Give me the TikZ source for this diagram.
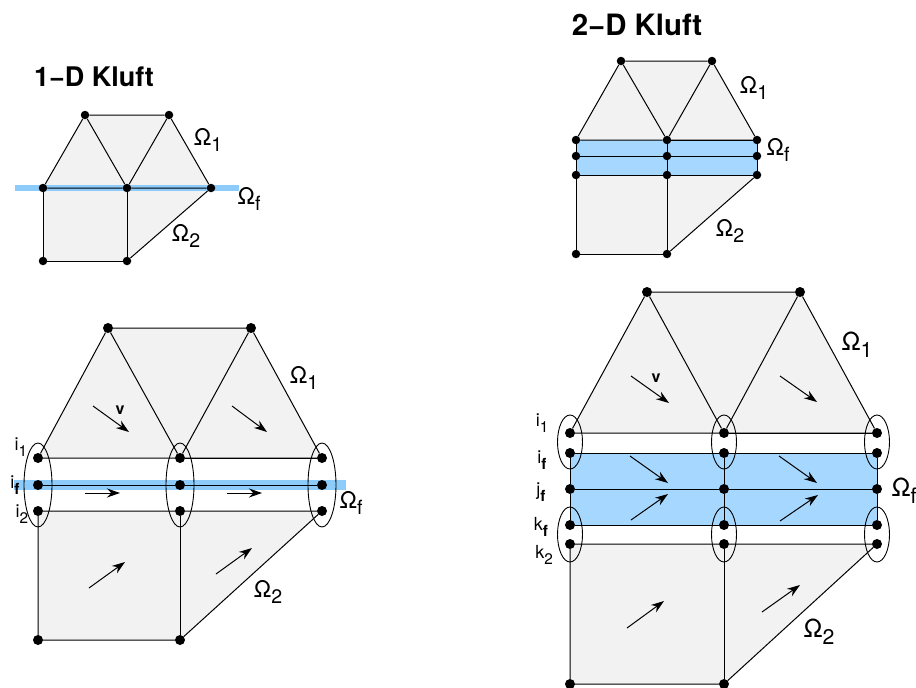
\documentclass[tikz,border=0pt]{standalone}
\usepackage{fontspec}
\setmainfont{TeX Gyre Heros}
\usepackage{tikz}
\usetikzlibrary{arrows.meta, backgrounds, shapes.geometric}

\definecolor{cellgray}{HTML}{F2F2F2}
\definecolor{bandblue}{HTML}{A6D8FF}
\definecolor{lineblue}{HTML}{8CCBFA}

\newcommand{\omlabel}[1]{Ω\raisebox{-.27em}{\scalebox{.85}{#1}}}
\newcommand{\idxlabel}[2]{#1\raisebox{-.35em}{\scalebox{.85}{#2}}}

\tikzset{
    dotsmall/.style={circle, fill=black, inner sep=0pt, minimum size=8.5pt},
    dotbig/.style={circle, fill=black, inner sep=0pt, minimum size=10pt},
    ring/.style={draw, ellipse, inner sep=0pt, line width=0.9pt},
    titleA/.style={font=\fontsize{27}{27}\selectfont\bfseries},
    titleB/.style={font=\fontsize{29.4}{29.4}\selectfont\bfseries},
    omsmall/.style={font=\fontsize{23}{23}\selectfont},
    ombig/.style={font=\fontsize{25}{25}\selectfont},
    idx/.style={font=\fontsize{18}{18}\selectfont},
    speed/.style={font=\fontsize{16}{16}\selectfont\bfseries},
    flow/.style={-{Stealth[length=13pt, width=9pt]}, line width=1pt},
    edge/.style={line width=1pt}
}

\begin{document}
\begin{tikzpicture}[x=1pt, y=-1pt]
    \useasboundingbox (0,0) rectangle (916,688);

    % 1-D small
    \node (headA) [titleA] at (94,77) {1−D Kluft};
    \node (sa1) [dotsmall] at (85,115) {};
    \node (sa2) [dotsmall] at (169,115) {};
    \node (sa3) [dotsmall] at (43,188) {};
    \node (sa4) [dotsmall] at (127,188) {};
    \node (sa5) [dotsmall] at (211,188) {};
    \node (sa6) [dotsmall] at (43,261) {};
    \node (sa7) [dotsmall] at (127,261) {};
    \coordinate (saL) at (15,188);
    \coordinate (saR) at (239,188);
    \begin{scope}[on background layer]
        \fill[cellgray] (sa1.center) -- (sa2.center) -- (sa5.center) -- (sa7.center) -- (sa6.center) -- (sa3.center) -- cycle;
        \draw[lineblue, line width=6pt] (saL) -- (saR);
    \end{scope}
    \draw[edge] (sa1) -- (sa2) -- (sa5) -- (sa4) -- (sa3) -- (sa1) -- (sa4) -- (sa2);
    \draw[edge] (sa3) -- (sa6) -- (sa7) -- (sa4);
    \draw[edge] (sa7) -- (sa5);
    \node (saO1) [omsmall] at (208,140) {\omlabel{1}};
    \node (saOf) [omsmall] at (249,199) {\omlabel{f}};
    \node (saO2) [omsmall] at (186,236) {\omlabel{2}};

    % 2-D small
    \node (headB) [titleB] at (637,25) {2−D Kluft};
    \node (sb1) [dotsmall] at (621,61) {};
    \node (sb2) [dotsmall] at (712,61) {};
    \node (sb3) [dotsmall] at (576,140) {};
    \node (sb4) [dotsmall] at (667,140) {};
    \node (sb5) [dotsmall] at (757,140) {};
    \node (sb6) [dotsmall] at (576,156) {};
    \node (sb7) [dotsmall] at (667,156) {};
    \node (sb8) [dotsmall] at (757,156) {};
    \node (sb9) [dotsmall] at (576,175) {};
    \node (sb10) [dotsmall] at (667,175) {};
    \node (sb11) [dotsmall] at (757,175) {};
    \node (sb12) [dotsmall] at (576,254) {};
    \node (sb13) [dotsmall] at (667,254) {};
    \begin{scope}[on background layer]
        \fill[cellgray] (sb1.center) -- (sb2.center) -- (sb5.center) -- (sb3.center) -- cycle;
        \fill[cellgray] (sb9.center) -- (sb11.center) -- (sb13.center) -- (sb12.center) -- cycle;
        \fill[bandblue] (sb3.center) rectangle (sb11.center);
    \end{scope}
    \draw[edge] (sb1) -- (sb2) -- (sb5) -- (sb4) -- (sb3) -- (sb1) -- (sb4) -- (sb2);
    \draw[edge] (sb4) -- (sb5) -- (sb8) -- (sb11) -- (sb10) -- (sb9) -- (sb6) -- (sb3);
    \draw[edge] (sb6) -- (sb7) -- (sb8);
    \draw[edge] (sb4) -- (sb7) -- (sb10) -- (sb13) -- (sb12) -- (sb9);
    \draw[edge] (sb13) -- (sb11);
    \node (sbO1) [omsmall] at (754,88) {\omlabel{1}};
    \node (sbOf) [omsmall] at (778,150) {\omlabel{f}};
    \node (sbO2) [omsmall] at (730,231) {\omlabel{2}};

    % 1-D big
    \node (la1) [dotbig] at (108,328) {};
    \node (la2) [dotbig] at (251,328) {};
    \node (la3) [dotbig] at (38,458) {};
    \node (la4) [dotbig] at (180,458) {};
    \node (la5) [dotbig] at (322,458) {};
    \node (la6) [dotbig] at (38,485) {};
    \node (la7) [dotbig] at (180,485) {};
    \node (la8) [dotbig] at (322,485) {};
    \node (la9) [dotbig] at (38,511) {};
    \node (la10) [dotbig] at (180,511) {};
    \node (la11) [dotbig] at (322,511) {};
    \node (la12) [dotbig] at (38,640) {};
    \node (la13) [dotbig] at (180,640) {};
    \coordinate (laL) at (14,485);
    \coordinate (laR) at (346,485);
    \begin{scope}[on background layer]
        \fill[cellgray] (la1.center) -- (la2.center) -- (la5.center) -- (la3.center) -- cycle;
        \fill[cellgray] (la9.center) -- (la11.center) -- (la13.center) -- (la12.center) -- cycle;
        \draw[lineblue, line width=10pt] (laL) -- (laR);
    \end{scope}
    \draw[edge] (la1) -- (la2) -- (la5) -- (la4) -- (la3) -- (la1) -- (la4) -- (la2);
    \draw[edge] (la4) -- (la5);
    \draw[edge] (la6) -- (la7) -- (la8);
    \draw[edge] (la9) -- (la10) -- (la11) -- (la13) -- (la12) -- (la9);
    \draw[edge] (la10) -- (la13);
    \node (laR1) [ring, minimum width=28pt, minimum height=84pt] at (38,485) {};
    \node (laR2) [ring, minimum width=28pt, minimum height=84pt] at (180,485) {};
    \node (laR3) [ring, minimum width=28pt, minimum height=84pt] at (322,485) {};
    \coordinate (laA1) at (93,406);  \coordinate (laA2) at (129,432);
    \coordinate (laA3) at (232,406); \coordinate (laA4) at (267,432);
    \coordinate (laA5) at (85,493);  \coordinate (laA6) at (120,493);
    \coordinate (laA7) at (227,493); \coordinate (laA8) at (262,493);
    \coordinate (laA9) at (89,588);  \coordinate (laA10) at (125,562);
    \coordinate (laA11) at (216,574); \coordinate (laA12) at (252,548);
    \draw[flow] (laA1) -- (laA2);
    \draw[flow] (laA3) -- (laA4);
    \draw[flow] (laA5) -- (laA6);
    \draw[flow] (laA7) -- (laA8);
    \draw[flow] (laA9) -- (laA10);
    \draw[flow] (laA11) -- (laA12);
    \node (laV) [speed] at (120,410) {v};
    \node (laO1) [omsmall] at (304,378) {\omlabel{1}};
    \node (laOf) [omsmall] at (351,503) {\omlabel{f}};
    \node (laO2) [omsmall] at (268,592) {\omlabel{2}};
    \node (laI1) [idx] at (21,447) {\idxlabel{i}{1}};
    \node (laIf) [idx] at (15,485) {\idxlabel{i}{\bfseries f}};
    \node (laI2) [idx] at (22,514) {\idxlabel{i}{2}};

    % 2-D big
    \node (ra1) [dotbig] at (647,292) {};
    \node (ra2) [dotbig] at (800,292) {};
    \node (ra3) [dotbig] at (570,433) {};
    \node (ra4) [dotbig] at (724,433) {};
    \node (ra5) [dotbig] at (877,433) {};
    \node (ra6) [dotbig] at (570,453) {};
    \node (ra7) [dotbig] at (724,453) {};
    \node (ra8) [dotbig] at (877,453) {};
    \node (ra9) [dotbig] at (570,489) {};
    \node (ra10) [dotbig] at (724,489) {};
    \node (ra11) [dotbig] at (877,489) {};
    \node (ra12) [dotbig] at (570,525) {};
    \node (ra13) [dotbig] at (724,525) {};
    \node (ra14) [dotbig] at (877,525) {};
    \node (ra15) [dotbig] at (570,544) {};
    \node (ra16) [dotbig] at (724,544) {};
    \node (ra17) [dotbig] at (877,544) {};
    \node (ra18) [dotbig] at (570,684) {};
    \node (ra19) [dotbig] at (724,684) {};
    \begin{scope}[on background layer]
        \fill[cellgray] (ra1.center) -- (ra2.center) -- (ra5.center) -- (ra3.center) -- cycle;
        \fill[cellgray] (ra15.center) -- (ra17.center) -- (ra19.center) -- (ra18.center) -- cycle;
        \fill[bandblue] (ra6.center) rectangle (ra14.center);
    \end{scope}
    \draw[edge] (ra1) -- (ra2) -- (ra5) -- (ra4) -- (ra3) -- (ra1) -- (ra4) -- (ra2);
    \draw[edge] (ra4) -- (ra5);
    \draw[edge] (ra6) -- (ra7) -- (ra8) -- (ra11) -- (ra14) -- (ra13) -- (ra12) -- (ra9) -- (ra6);
    \draw[edge] (ra9) -- (ra10) -- (ra11);
    \draw[edge] (ra7) -- (ra10) -- (ra13);
    \draw[edge] (ra15) -- (ra16) -- (ra17) -- (ra19) -- (ra18) -- (ra15);
    \draw[edge] (ra16) -- (ra19);
    \node (raR1) [ring, minimum width=25pt, minimum height=54pt] at (570,442) {};
    \node (raR2) [ring, minimum width=25pt, minimum height=54pt] at (724,442) {};
    \node (raR3) [ring, minimum width=25pt, minimum height=54pt] at (877,442) {};
    \node (raR4) [ring, minimum width=25pt, minimum height=55pt] at (570,534.5) {};
    \node (raR5) [ring, minimum width=25pt, minimum height=55pt] at (724,534.5) {};
    \node (raR6) [ring, minimum width=25pt, minimum height=55pt] at (877,534.5) {};
    \coordinate (raA1) at (631,376);  \coordinate (raA2) at (669,403);
    \coordinate (raA3) at (780,376);  \coordinate (raA4) at (817,402);
    \coordinate (raA5) at (630,456);  \coordinate (raA6) at (668,483);
    \coordinate (raA7) at (779,456);  \coordinate (raA8) at (817,483);
    \coordinate (raA9) at (631,520);  \coordinate (raA10) at (668,494);
    \coordinate (raA11) at (780,521); \coordinate (raA12) at (818,495);
    \coordinate (raA13) at (627,628); \coordinate (raA14) at (664,601);
    \coordinate (raA15) at (762,612); \coordinate (raA16) at (800,585);
    \draw[flow] (raA1) -- (raA2);
    \draw[flow] (raA3) -- (raA4);
    \draw[flow] (raA5) -- (raA6);
    \draw[flow] (raA7) -- (raA8);
    \draw[flow] (raA9) -- (raA10);
    \draw[flow] (raA11) -- (raA12);
    \draw[flow] (raA13) -- (raA14);
    \draw[flow] (raA15) -- (raA16);
    \node (raV) [speed] at (656,378) {v};
    \node (raO1) [ombig] at (857,345) {\omlabel{1}};
    \node (raOf) [ombig] at (904,491) {\omlabel{f}};
    \node (raO2) [ombig] at (819,632) {\omlabel{2}};
    \node (raI1) [idx] at (542,423) {\idxlabel{i}{1}};
    \node (raIf) [idx] at (542,460) {\idxlabel{i}{\bfseries f}};
    \node (raJf) [idx] at (541,492) {\idxlabel{j}{\bfseries f}};
    \node (raKf) [idx] at (541,527) {\idxlabel{k}{\bfseries f}};
    \node (raK2) [idx] at (544,555) {\idxlabel{k}{2}};
\end{tikzpicture}
\end{document}
